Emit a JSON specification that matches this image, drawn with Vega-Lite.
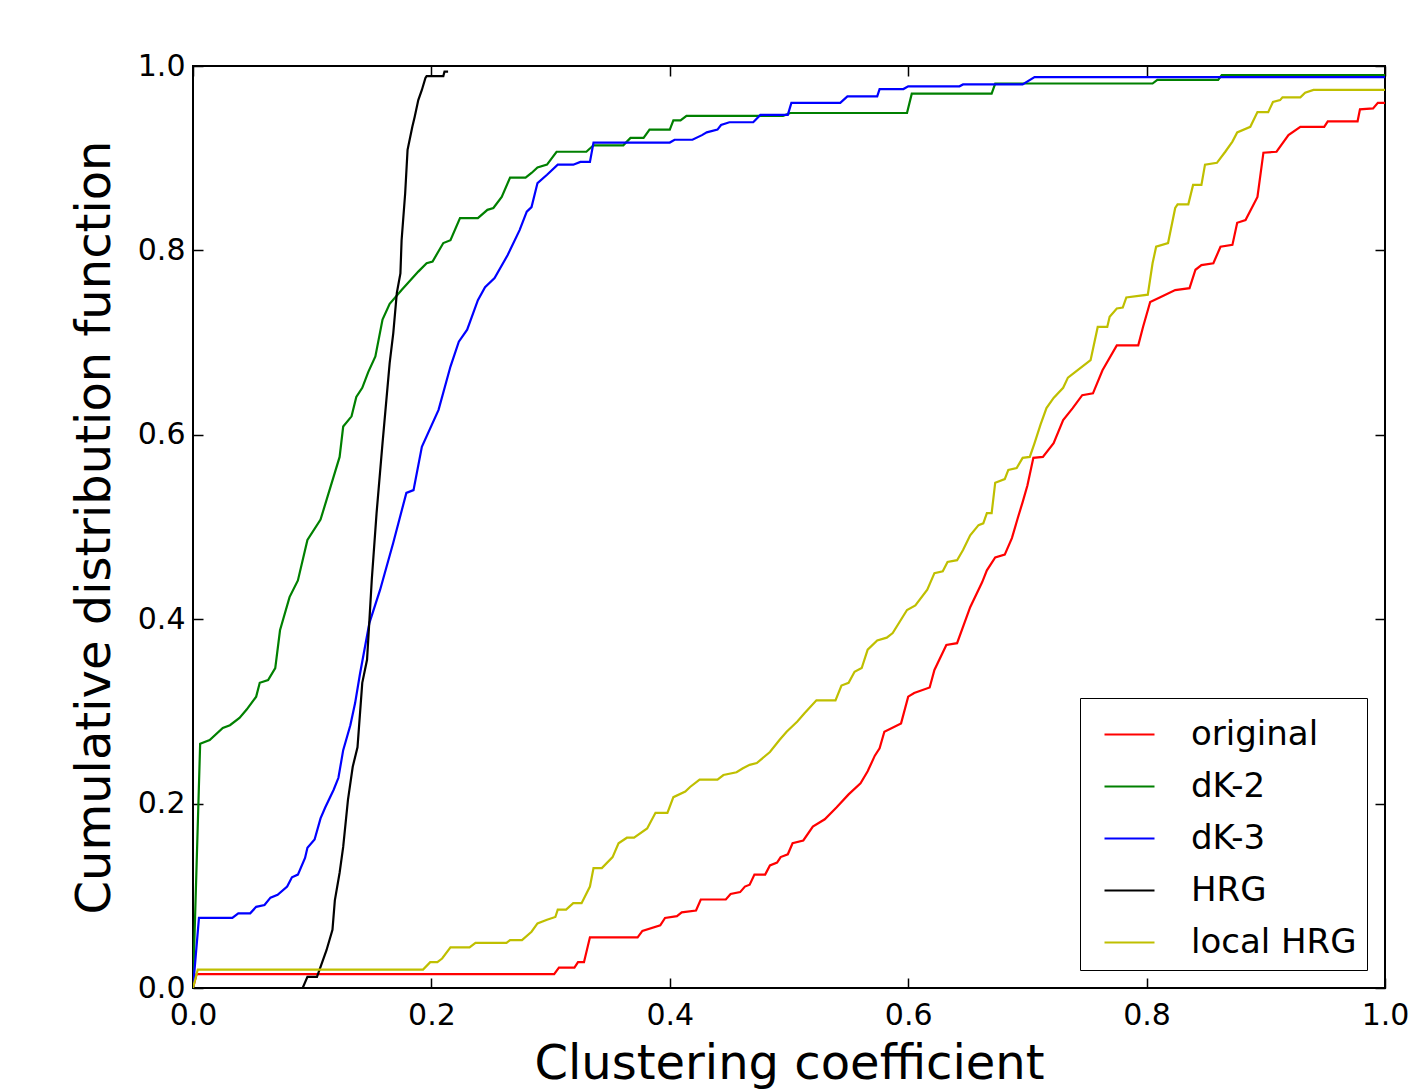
{
  "$schema": "https://vega.github.io/schema/vega-lite/v6.json",
  "width": 1192,
  "height": 922,
  "autosize": "none",
  "padding": {"left": 193, "top": 66, "right": 32, "bottom": 101},
  "config": {
    "font": "DejaVu Sans",
    "view": {"stroke": "#000000", "strokeWidth": 2},
    "axis": {
      "grid": false, "domain": false, "tickColor": "#000000", "tickWidth": 1.5, "tickSize": -10,
      "labelFont": "DejaVu Sans", "labelFontSize": 30, "labelColor": "#000000",
      "titleFont": "DejaVu Sans", "titleFontSize": 48, "titleFontWeight": "normal", "titleColor": "#000000",
      "labelFlush": false, "labelOverlap": false
    }
  },
  "datasets": {
    "cdf": [
      {"s":"original","x":0,"y":0},{"s":"original","x":0.003,"y":0.015},{"s":"original","x":0.303,"y":0.015},{"s":"original","x":0.307,"y":0.022},{"s":"original","x":0.32,"y":0.022},{"s":"original","x":0.323,"y":0.028},{"s":"original","x":0.328,"y":0.028},{"s":"original","x":0.333,"y":0.055},{"s":"original","x":0.373,"y":0.055},{"s":"original","x":0.377,"y":0.062},{"s":"original","x":0.392,"y":0.068},{"s":"original","x":0.396,"y":0.076},{"s":"original","x":0.406,"y":0.078},{"s":"original","x":0.41,"y":0.082},{"s":"original","x":0.422,"y":0.084},{"s":"original","x":0.426,"y":0.096},{"s":"original","x":0.447,"y":0.096},{"s":"original","x":0.451,"y":0.102},{"s":"original","x":0.459,"y":0.104},{"s":"original","x":0.463,"y":0.11},{"s":"original","x":0.467,"y":0.112},{"s":"original","x":0.471,"y":0.123},{"s":"original","x":0.48,"y":0.123},{"s":"original","x":0.484,"y":0.133},{"s":"original","x":0.49,"y":0.136},{"s":"original","x":0.493,"y":0.142},{"s":"original","x":0.499,"y":0.145},{"s":"original","x":0.503,"y":0.157},{"s":"original","x":0.512,"y":0.16},{"s":"original","x":0.52,"y":0.175},{"s":"original","x":0.53,"y":0.183},{"s":"original","x":0.54,"y":0.196},{"s":"original","x":0.55,"y":0.21},{"s":"original","x":0.56,"y":0.222},{"s":"original","x":0.566,"y":0.235},{"s":"original","x":0.572,"y":0.252},{"s":"original","x":0.576,"y":0.26},{"s":"original","x":0.58,"y":0.278},{"s":"original","x":0.594,"y":0.287},{"s":"original","x":0.6,"y":0.316},{"s":"original","x":0.605,"y":0.32},{"s":"original","x":0.618,"y":0.326},{"s":"original","x":0.622,"y":0.345},{"s":"original","x":0.632,"y":0.372},{"s":"original","x":0.641,"y":0.374},{"s":"original","x":0.652,"y":0.413},{"s":"original","x":0.662,"y":0.44},{"s":"original","x":0.666,"y":0.453},{"s":"original","x":0.673,"y":0.467},{"s":"original","x":0.681,"y":0.47},{"s":"original","x":0.687,"y":0.488},{"s":"original","x":0.692,"y":0.51},{"s":"original","x":0.696,"y":0.527},{"s":"original","x":0.7,"y":0.545},{"s":"original","x":0.705,"y":0.575},{"s":"original","x":0.713,"y":0.576},{"s":"original","x":0.722,"y":0.591},{"s":"original","x":0.73,"y":0.616},{"s":"original","x":0.738,"y":0.629},{"s":"original","x":0.746,"y":0.643},{"s":"original","x":0.755,"y":0.645},{"s":"original","x":0.763,"y":0.67},{"s":"original","x":0.775,"y":0.697},{"s":"original","x":0.793,"y":0.697},{"s":"original","x":0.797,"y":0.717},{"s":"original","x":0.803,"y":0.744},{"s":"original","x":0.811,"y":0.749},{"s":"original","x":0.824,"y":0.757},{"s":"original","x":0.836,"y":0.759},{"s":"original","x":0.841,"y":0.779},{"s":"original","x":0.846,"y":0.784},{"s":"original","x":0.856,"y":0.786},{"s":"original","x":0.862,"y":0.804},{"s":"original","x":0.872,"y":0.806},{"s":"original","x":0.876,"y":0.83},{"s":"original","x":0.883,"y":0.833},{"s":"original","x":0.893,"y":0.858},{"s":"original","x":0.898,"y":0.906},{"s":"original","x":0.909,"y":0.907},{"s":"original","x":0.919,"y":0.925},{"s":"original","x":0.929,"y":0.934},{"s":"original","x":0.949,"y":0.934},{"s":"original","x":0.952,"y":0.94},{"s":"original","x":0.977,"y":0.94},{"s":"original","x":0.979,"y":0.953},{"s":"original","x":0.99,"y":0.954},{"s":"original","x":0.994,"y":0.96},{"s":"original","x":1.0,"y":0.96},

      {"s":"dK-2","x":0,"y":0},{"s":"dK-2","x":0.006,"y":0.265},{"s":"dK-2","x":0.014,"y":0.269},{"s":"dK-2","x":0.025,"y":0.282},{"s":"dK-2","x":0.031,"y":0.285},{"s":"dK-2","x":0.039,"y":0.293},{"s":"dK-2","x":0.045,"y":0.302},{"s":"dK-2","x":0.053,"y":0.316},{"s":"dK-2","x":0.056,"y":0.331},{"s":"dK-2","x":0.063,"y":0.334},{"s":"dK-2","x":0.069,"y":0.347},{"s":"dK-2","x":0.073,"y":0.388},{"s":"dK-2","x":0.081,"y":0.424},{"s":"dK-2","x":0.088,"y":0.442},{"s":"dK-2","x":0.096,"y":0.486},{"s":"dK-2","x":0.107,"y":0.508},{"s":"dK-2","x":0.119,"y":0.559},{"s":"dK-2","x":0.123,"y":0.576},{"s":"dK-2","x":0.126,"y":0.609},{"s":"dK-2","x":0.133,"y":0.62},{"s":"dK-2","x":0.137,"y":0.641},{"s":"dK-2","x":0.142,"y":0.651},{"s":"dK-2","x":0.147,"y":0.668},{"s":"dK-2","x":0.153,"y":0.685},{"s":"dK-2","x":0.159,"y":0.725},{"s":"dK-2","x":0.165,"y":0.742},{"s":"dK-2","x":0.175,"y":0.757},{"s":"dK-2","x":0.189,"y":0.777},{"s":"dK-2","x":0.196,"y":0.786},{"s":"dK-2","x":0.201,"y":0.788},{"s":"dK-2","x":0.21,"y":0.808},{"s":"dK-2","x":0.216,"y":0.811},{"s":"dK-2","x":0.224,"y":0.835},{"s":"dK-2","x":0.239,"y":0.835},{"s":"dK-2","x":0.247,"y":0.844},{"s":"dK-2","x":0.252,"y":0.846},{"s":"dK-2","x":0.259,"y":0.858},{"s":"dK-2","x":0.266,"y":0.879},{"s":"dK-2","x":0.279,"y":0.879},{"s":"dK-2","x":0.284,"y":0.884},{"s":"dK-2","x":0.289,"y":0.89},{"s":"dK-2","x":0.297,"y":0.893},{"s":"dK-2","x":0.305,"y":0.907},{"s":"dK-2","x":0.33,"y":0.907},{"s":"dK-2","x":0.336,"y":0.914},{"s":"dK-2","x":0.361,"y":0.914},{"s":"dK-2","x":0.367,"y":0.922},{"s":"dK-2","x":0.378,"y":0.922},{"s":"dK-2","x":0.383,"y":0.931},{"s":"dK-2","x":0.4,"y":0.931},{"s":"dK-2","x":0.403,"y":0.941},{"s":"dK-2","x":0.409,"y":0.941},{"s":"dK-2","x":0.414,"y":0.946},{"s":"dK-2","x":0.495,"y":0.946},{"s":"dK-2","x":0.501,"y":0.949},{"s":"dK-2","x":0.599,"y":0.949},{"s":"dK-2","x":0.603,"y":0.97},{"s":"dK-2","x":0.67,"y":0.97},{"s":"dK-2","x":0.673,"y":0.981},{"s":"dK-2","x":0.805,"y":0.981},{"s":"dK-2","x":0.809,"y":0.985},{"s":"dK-2","x":0.86,"y":0.985},{"s":"dK-2","x":0.863,"y":0.99},{"s":"dK-2","x":1.0,"y":0.99},

      {"s":"dK-3","x":0,"y":0},{"s":"dK-3","x":0.005,"y":0.076},{"s":"dK-3","x":0.033,"y":0.076},{"s":"dK-3","x":0.038,"y":0.081},{"s":"dK-3","x":0.048,"y":0.081},{"s":"dK-3","x":0.053,"y":0.088},{"s":"dK-3","x":0.06,"y":0.09},{"s":"dK-3","x":0.065,"y":0.098},{"s":"dK-3","x":0.071,"y":0.101},{"s":"dK-3","x":0.079,"y":0.11},{"s":"dK-3","x":0.083,"y":0.12},{"s":"dK-3","x":0.088,"y":0.123},{"s":"dK-3","x":0.094,"y":0.141},{"s":"dK-3","x":0.096,"y":0.152},{"s":"dK-3","x":0.102,"y":0.161},{"s":"dK-3","x":0.107,"y":0.184},{"s":"dK-3","x":0.111,"y":0.196},{"s":"dK-3","x":0.118,"y":0.215},{"s":"dK-3","x":0.122,"y":0.228},{"s":"dK-3","x":0.126,"y":0.258},{"s":"dK-3","x":0.132,"y":0.285},{"s":"dK-3","x":0.136,"y":0.309},{"s":"dK-3","x":0.14,"y":0.34},{"s":"dK-3","x":0.148,"y":0.396},{"s":"dK-3","x":0.157,"y":0.432},{"s":"dK-3","x":0.168,"y":0.483},{"s":"dK-3","x":0.179,"y":0.537},{"s":"dK-3","x":0.185,"y":0.54},{"s":"dK-3","x":0.192,"y":0.587},{"s":"dK-3","x":0.206,"y":0.627},{"s":"dK-3","x":0.216,"y":0.674},{"s":"dK-3","x":0.223,"y":0.701},{"s":"dK-3","x":0.23,"y":0.714},{"s":"dK-3","x":0.239,"y":0.746},{"s":"dK-3","x":0.245,"y":0.76},{"s":"dK-3","x":0.253,"y":0.77},{"s":"dK-3","x":0.264,"y":0.795},{"s":"dK-3","x":0.274,"y":0.822},{"s":"dK-3","x":0.28,"y":0.842},{"s":"dK-3","x":0.284,"y":0.847},{"s":"dK-3","x":0.289,"y":0.873},{"s":"dK-3","x":0.297,"y":0.882},{"s":"dK-3","x":0.306,"y":0.893},{"s":"dK-3","x":0.319,"y":0.893},{"s":"dK-3","x":0.325,"y":0.896},{"s":"dK-3","x":0.333,"y":0.896},{"s":"dK-3","x":0.336,"y":0.917},{"s":"dK-3","x":0.4,"y":0.917},{"s":"dK-3","x":0.404,"y":0.92},{"s":"dK-3","x":0.419,"y":0.92},{"s":"dK-3","x":0.427,"y":0.925},{"s":"dK-3","x":0.431,"y":0.928},{"s":"dK-3","x":0.44,"y":0.931},{"s":"dK-3","x":0.443,"y":0.936},{"s":"dK-3","x":0.45,"y":0.939},{"s":"dK-3","x":0.47,"y":0.939},{"s":"dK-3","x":0.476,"y":0.947},{"s":"dK-3","x":0.499,"y":0.947},{"s":"dK-3","x":0.502,"y":0.96},{"s":"dK-3","x":0.543,"y":0.96},{"s":"dK-3","x":0.549,"y":0.967},{"s":"dK-3","x":0.574,"y":0.967},{"s":"dK-3","x":0.576,"y":0.975},{"s":"dK-3","x":0.596,"y":0.975},{"s":"dK-3","x":0.6,"y":0.978},{"s":"dK-3","x":0.643,"y":0.978},{"s":"dK-3","x":0.646,"y":0.98},{"s":"dK-3","x":0.696,"y":0.98},{"s":"dK-3","x":0.706,"y":0.988},{"s":"dK-3","x":1.0,"y":0.988},

      {"s":"HRG","x":0,"y":0},{"s":"HRG","x":0.092,"y":0},{"s":"HRG","x":0.096,"y":0.012},{"s":"HRG","x":0.104,"y":0.012},{"s":"HRG","x":0.107,"y":0.023},{"s":"HRG","x":0.112,"y":0.041},{"s":"HRG","x":0.117,"y":0.063},{"s":"HRG","x":0.119,"y":0.095},{"s":"HRG","x":0.123,"y":0.125},{"s":"HRG","x":0.126,"y":0.153},{"s":"HRG","x":0.13,"y":0.204},{"s":"HRG","x":0.134,"y":0.24},{"s":"HRG","x":0.138,"y":0.261},{"s":"HRG","x":0.142,"y":0.331},{"s":"HRG","x":0.146,"y":0.356},{"s":"HRG","x":0.148,"y":0.399},{"s":"HRG","x":0.15,"y":0.443},{"s":"HRG","x":0.154,"y":0.515},{"s":"HRG","x":0.159,"y":0.591},{"s":"HRG","x":0.165,"y":0.678},{"s":"HRG","x":0.168,"y":0.71},{"s":"HRG","x":0.171,"y":0.754},{"s":"HRG","x":0.174,"y":0.775},{"s":"HRG","x":0.175,"y":0.811},{"s":"HRG","x":0.178,"y":0.862},{"s":"HRG","x":0.18,"y":0.909},{"s":"HRG","x":0.184,"y":0.934},{"s":"HRG","x":0.186,"y":0.945},{"s":"HRG","x":0.189,"y":0.963},{"s":"HRG","x":0.192,"y":0.974},{"s":"HRG","x":0.195,"y":0.987},{"s":"HRG","x":0.196,"y":0.989},{"s":"HRG","x":0.21,"y":0.989},{"s":"HRG","x":0.211,"y":0.994},{"s":"HRG","x":0.214,"y":0.994},

      {"s":"local HRG","x":0,"y":0},{"s":"local HRG","x":0.004,"y":0.02},{"s":"local HRG","x":0.193,"y":0.02},{"s":"local HRG","x":0.199,"y":0.028},{"s":"local HRG","x":0.205,"y":0.028},{"s":"local HRG","x":0.209,"y":0.032},{"s":"local HRG","x":0.216,"y":0.044},{"s":"local HRG","x":0.232,"y":0.044},{"s":"local HRG","x":0.237,"y":0.049},{"s":"local HRG","x":0.263,"y":0.049},{"s":"local HRG","x":0.266,"y":0.052},{"s":"local HRG","x":0.276,"y":0.052},{"s":"local HRG","x":0.284,"y":0.061},{"s":"local HRG","x":0.289,"y":0.07},{"s":"local HRG","x":0.297,"y":0.074},{"s":"local HRG","x":0.304,"y":0.077},{"s":"local HRG","x":0.306,"y":0.085},{"s":"local HRG","x":0.313,"y":0.085},{"s":"local HRG","x":0.319,"y":0.092},{"s":"local HRG","x":0.326,"y":0.092},{"s":"local HRG","x":0.333,"y":0.11},{"s":"local HRG","x":0.336,"y":0.13},{"s":"local HRG","x":0.343,"y":0.13},{"s":"local HRG","x":0.352,"y":0.142},{"s":"local HRG","x":0.357,"y":0.157},{"s":"local HRG","x":0.364,"y":0.163},{"s":"local HRG","x":0.37,"y":0.163},{"s":"local HRG","x":0.381,"y":0.173},{"s":"local HRG","x":0.388,"y":0.19},{"s":"local HRG","x":0.398,"y":0.19},{"s":"local HRG","x":0.403,"y":0.207},{"s":"local HRG","x":0.413,"y":0.213},{"s":"local HRG","x":0.417,"y":0.218},{"s":"local HRG","x":0.425,"y":0.226},{"s":"local HRG","x":0.44,"y":0.226},{"s":"local HRG","x":0.445,"y":0.231},{"s":"local HRG","x":0.456,"y":0.234},{"s":"local HRG","x":0.461,"y":0.238},{"s":"local HRG","x":0.467,"y":0.242},{"s":"local HRG","x":0.473,"y":0.244},{"s":"local HRG","x":0.484,"y":0.256},{"s":"local HRG","x":0.492,"y":0.269},{"s":"local HRG","x":0.498,"y":0.278},{"s":"local HRG","x":0.507,"y":0.289},{"s":"local HRG","x":0.513,"y":0.298},{"s":"local HRG","x":0.523,"y":0.312},{"s":"local HRG","x":0.539,"y":0.312},{"s":"local HRG","x":0.544,"y":0.328},{"s":"local HRG","x":0.55,"y":0.331},{"s":"local HRG","x":0.555,"y":0.343},{"s":"local HRG","x":0.561,"y":0.347},{"s":"local HRG","x":0.566,"y":0.367},{"s":"local HRG","x":0.574,"y":0.377},{"s":"local HRG","x":0.582,"y":0.38},{"s":"local HRG","x":0.587,"y":0.385},{"s":"local HRG","x":0.599,"y":0.41},{"s":"local HRG","x":0.606,"y":0.415},{"s":"local HRG","x":0.616,"y":0.432},{"s":"local HRG","x":0.622,"y":0.45},{"s":"local HRG","x":0.629,"y":0.452},{"s":"local HRG","x":0.633,"y":0.462},{"s":"local HRG","x":0.641,"y":0.464},{"s":"local HRG","x":0.646,"y":0.475},{"s":"local HRG","x":0.652,"y":0.491},{"s":"local HRG","x":0.659,"y":0.502},{"s":"local HRG","x":0.663,"y":0.504},{"s":"local HRG","x":0.666,"y":0.515},{"s":"local HRG","x":0.67,"y":0.515},{"s":"local HRG","x":0.673,"y":0.548},{"s":"local HRG","x":0.681,"y":0.552},{"s":"local HRG","x":0.684,"y":0.562},{"s":"local HRG","x":0.691,"y":0.564},{"s":"local HRG","x":0.696,"y":0.575},{"s":"local HRG","x":0.702,"y":0.576},{"s":"local HRG","x":0.706,"y":0.591},{"s":"local HRG","x":0.711,"y":0.611},{"s":"local HRG","x":0.716,"y":0.629},{"s":"local HRG","x":0.722,"y":0.64},{"s":"local HRG","x":0.73,"y":0.651},{"s":"local HRG","x":0.734,"y":0.662},{"s":"local HRG","x":0.74,"y":0.668},{"s":"local HRG","x":0.753,"y":0.681},{"s":"local HRG","x":0.759,"y":0.717},{"s":"local HRG","x":0.767,"y":0.717},{"s":"local HRG","x":0.769,"y":0.728},{"s":"local HRG","x":0.775,"y":0.737},{"s":"local HRG","x":0.78,"y":0.738},{"s":"local HRG","x":0.783,"y":0.749},{"s":"local HRG","x":0.801,"y":0.752},{"s":"local HRG","x":0.805,"y":0.786},{"s":"local HRG","x":0.808,"y":0.804},{"s":"local HRG","x":0.818,"y":0.808},{"s":"local HRG","x":0.824,"y":0.846},{"s":"local HRG","x":0.826,"y":0.85},{"s":"local HRG","x":0.835,"y":0.85},{"s":"local HRG","x":0.839,"y":0.871},{"s":"local HRG","x":0.846,"y":0.871},{"s":"local HRG","x":0.849,"y":0.893},{"s":"local HRG","x":0.859,"y":0.895},{"s":"local HRG","x":0.866,"y":0.907},{"s":"local HRG","x":0.872,"y":0.918},{"s":"local HRG","x":0.876,"y":0.928},{"s":"local HRG","x":0.887,"y":0.934},{"s":"local HRG","x":0.893,"y":0.95},{"s":"local HRG","x":0.902,"y":0.95},{"s":"local HRG","x":0.906,"y":0.961},{"s":"local HRG","x":0.912,"y":0.963},{"s":"local HRG","x":0.914,"y":0.966},{"s":"local HRG","x":0.929,"y":0.966},{"s":"local HRG","x":0.933,"y":0.971},{"s":"local HRG","x":0.94,"y":0.974},{"s":"local HRG","x":1.0,"y":0.974}
    ]
  },
  "data": {"name": "cdf"},
  "resolve": {"axis": {"x": "independent", "y": "independent"}},
  "layer": [
    {
      "mark": {"type": "line", "strokeWidth": 2.2, "clip": true},
      "encoding": {
        "x": {"field": "x", "type": "quantitative",
              "scale": {"domain": [0, 1], "nice": false, "zero": false},
              "axis": {"orient": "bottom", "title": "Clustering coefficient", "values": [0, 0.2, 0.4, 0.6, 0.8, 1], "format": ".1f", "labelPadding": 22, "titlePadding": 10}},
        "y": {"field": "y", "type": "quantitative",
              "scale": {"domain": [0, 1], "nice": false, "zero": false},
              "axis": {"orient": "left", "title": "Cumulative distribution function", "values": [0, 0.2, 0.4, 0.6, 0.8, 1], "format": ".1f", "labelPadding": 18, "titlePadding": 18}},
        "color": {"field": "s", "type": "nominal",
                  "scale": {"domain": ["original", "dK-2", "dK-3", "HRG", "local HRG"], "range": ["#ff0000", "#008000", "#0000ff", "#000000", "#bfbf00"]},
                  "legend": {"title": null, "orient": "bottom-right", "offset": 18, "symbolType": "stroke", "symbolSize": 2500, "symbolStrokeWidth": 2.2,
                             "labelFontSize": 34, "labelFont": "DejaVu Sans", "labelColor": "#000000", "labelLimit": 400,
                             "strokeColor": "#000000", "fillColor": "#ffffff", "padding": 10, "rowPadding": 8, "labelOffset": 35, "symbolOffset": 13, "cornerRadius": 0}}
      }
    },
    {
      "mark": {"type": "line", "strokeOpacity": 0},
      "encoding": {
        "x": {"field": "x", "type": "quantitative", "axis": {"orient": "top", "labels": false, "title": null, "values": [0, 0.2, 0.4, 0.6, 0.8, 1]}},
        "y": {"field": "y", "type": "quantitative", "axis": {"orient": "right", "labels": false, "title": null, "values": [0, 0.2, 0.4, 0.6, 0.8, 1]}},
        "detail": {"field": "s"}
      }
    }
  ]
}
